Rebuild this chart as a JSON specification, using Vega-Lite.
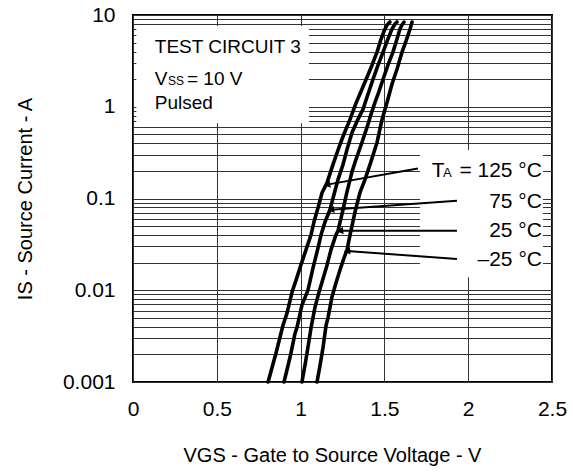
{
  "$schema": "https://vega.github.io/schema/vega-lite/v6.json",
  "width": 419,
  "height": 367,
  "autosize": {"type": "none"},
  "padding": {"left": 133, "top": 15, "right": 21, "bottom": 94},
  "background": "white",
  "data": {"values": [{}]},
  "config": {
    "font": "Liberation Sans",
    "view": {"stroke": "#000", "strokeWidth": 2},
    "axis": {
      "grid": true, "gridColor": "#333", "gridWidth": 1, "gridOpacity": 1,
      "ticks": false, "tickSize": 0, "domain": false,
      "labelFont": "Liberation Sans", "labelColor": "#000", "labelFontSize": 21,
      "titleFont": "Liberation Sans", "titleColor": "#000", "titleFontWeight": "normal", "titleFontSize": 20,
      "labelFlush": false, "labelOverlap": false
    },
    "text": {"font": "Liberation Sans", "color": "#000", "fontSize": 19, "align": "left", "baseline": "alphabetic"}
  },
  "datasets": {
    "curves": [
      {"t": "125", "v": 0.806, "i": 0.001},
      {"t": "125", "v": 0.853, "i": 0.00206},
      {"t": "125", "v": 0.895, "i": 0.00416},
      {"t": "125", "v": 0.919, "i": 0.00563},
      {"t": "125", "v": 0.949, "i": 0.00956},
      {"t": "125", "v": 0.973, "i": 0.0129},
      {"t": "125", "v": 1.002, "i": 0.0189},
      {"t": "125", "v": 1.032, "i": 0.0275},
      {"t": "125", "v": 1.062, "i": 0.0402},
      {"t": "125", "v": 1.080, "i": 0.0557},
      {"t": "125", "v": 1.104, "i": 0.0793},
      {"t": "125", "v": 1.128, "i": 0.1157},
      {"t": "125", "v": 1.158, "i": 0.1489},
      {"t": "125", "v": 1.193, "i": 0.2343},
      {"t": "125", "v": 1.235, "i": 0.3877},
      {"t": "125", "v": 1.265, "i": 0.5381},
      {"t": "125", "v": 1.295, "i": 0.7279},
      {"t": "125", "v": 1.330, "i": 1.089},
      {"t": "125", "v": 1.366, "i": 1.55},
      {"t": "125", "v": 1.396, "i": 2.097},
      {"t": "125", "v": 1.426, "i": 2.838},
      {"t": "125", "v": 1.456, "i": 3.937},
      {"t": "125", "v": 1.480, "i": 5.463},
      {"t": "125", "v": 1.498, "i": 6.682},
      {"t": "125", "v": 1.516, "i": 7.773},
      {"t": "125", "v": 1.533, "i": 8.384},
      {"t": "75", "v": 0.901, "i": 0.001},
      {"t": "75", "v": 0.937, "i": 0.00186},
      {"t": "75", "v": 0.967, "i": 0.0034},
      {"t": "75", "v": 0.979, "i": 0.00396},
      {"t": "75", "v": 1.008, "i": 0.00689},
      {"t": "75", "v": 1.044, "i": 0.01005},
      {"t": "75", "v": 1.074, "i": 0.0175},
      {"t": "75", "v": 1.104, "i": 0.02895},
      {"t": "75", "v": 1.122, "i": 0.0402},
      {"t": "75", "v": 1.146, "i": 0.0557},
      {"t": "75", "v": 1.175, "i": 0.0754},
      {"t": "75", "v": 1.199, "i": 0.1101},
      {"t": "75", "v": 1.223, "i": 0.1606},
      {"t": "75", "v": 1.253, "i": 0.2343},
      {"t": "75", "v": 1.277, "i": 0.342},
      {"t": "75", "v": 1.307, "i": 0.5247},
      {"t": "75", "v": 1.336, "i": 0.6923},
      {"t": "75", "v": 1.372, "i": 0.9367},
      {"t": "75", "v": 1.402, "i": 1.367},
      {"t": "75", "v": 1.432, "i": 1.994},
      {"t": "75", "v": 1.462, "i": 2.838},
      {"t": "75", "v": 1.492, "i": 3.937},
      {"t": "75", "v": 1.521, "i": 5.463},
      {"t": "75", "v": 1.545, "i": 7.028},
      {"t": "75", "v": 1.563, "i": 7.972},
      {"t": "75", "v": 1.575, "i": 8.384},
      {"t": "25", "v": 1.008, "i": 0.001},
      {"t": "25", "v": 1.026, "i": 0.00152},
      {"t": "25", "v": 1.044, "i": 0.00239},
      {"t": "25", "v": 1.062, "i": 0.00386},
      {"t": "25", "v": 1.086, "i": 0.00655},
      {"t": "25", "v": 1.110, "i": 0.00956},
      {"t": "25", "v": 1.128, "i": 0.0123},
      {"t": "25", "v": 1.158, "i": 0.0189},
      {"t": "25", "v": 1.181, "i": 0.0275},
      {"t": "25", "v": 1.211, "i": 0.0402},
      {"t": "25", "v": 1.223, "i": 0.0444},
      {"t": "25", "v": 1.253, "i": 0.0754},
      {"t": "25", "v": 1.277, "i": 0.1187},
      {"t": "25", "v": 1.307, "i": 0.1964},
      {"t": "25", "v": 1.330, "i": 0.2658},
      {"t": "25", "v": 1.366, "i": 0.4077},
      {"t": "25", "v": 1.396, "i": 0.5952},
      {"t": "25", "v": 1.420, "i": 0.8257},
      {"t": "25", "v": 1.444, "i": 1.117},
      {"t": "25", "v": 1.468, "i": 1.474},
      {"t": "25", "v": 1.492, "i": 1.994},
      {"t": "25", "v": 1.521, "i": 2.838},
      {"t": "25", "v": 1.551, "i": 3.937},
      {"t": "25", "v": 1.575, "i": 5.463},
      {"t": "25", "v": 1.593, "i": 7.028},
      {"t": "25", "v": 1.605, "i": 7.773},
      {"t": "25", "v": 1.617, "i": 8.384},
      {"t": "-25", "v": 1.098, "i": 0.001},
      {"t": "-25", "v": 1.116, "i": 0.00152},
      {"t": "-25", "v": 1.134, "i": 0.00239},
      {"t": "-25", "v": 1.152, "i": 0.00416},
      {"t": "-25", "v": 1.163, "i": 0.00497},
      {"t": "-25", "v": 1.187, "i": 0.00843},
      {"t": "-25", "v": 1.211, "i": 0.012},
      {"t": "-25", "v": 1.235, "i": 0.0166},
      {"t": "-25", "v": 1.259, "i": 0.0225},
      {"t": "-25", "v": 1.277, "i": 0.0275},
      {"t": "-25", "v": 1.295, "i": 0.0402},
      {"t": "-25", "v": 1.325, "i": 0.0717},
      {"t": "-25", "v": 1.354, "i": 0.1157},
      {"t": "-25", "v": 1.384, "i": 0.1606},
      {"t": "-25", "v": 1.414, "i": 0.2343},
      {"t": "-25", "v": 1.456, "i": 0.4077},
      {"t": "-25", "v": 1.486, "i": 0.7279},
      {"t": "-25", "v": 1.516, "i": 1.117},
      {"t": "-25", "v": 1.545, "i": 1.759},
      {"t": "-25", "v": 1.575, "i": 2.566},
      {"t": "-25", "v": 1.605, "i": 3.937},
      {"t": "-25", "v": 1.629, "i": 5.194},
      {"t": "-25", "v": 1.653, "i": 7.028},
      {"t": "-25", "v": 1.665, "i": 8.384}
    ],
    "arrows": [
      {"t": "125", "x_from": 1.700, "i_from": 0.212, "x_to": 1.158, "i_to": 0.1416},
      {"t": "75", "x_from": 1.933, "i_from": 0.0946, "x_to": 1.181, "i_to": 0.0754},
      {"t": "25", "x_from": 1.933, "i_from": 0.0444, "x_to": 1.235, "i_to": 0.0444},
      {"t": "-25", "x_from": 1.933, "i_from": 0.0219, "x_to": 1.277, "i_to": 0.0268}
    ]
  },
  "layer": [
    {
      "mark": {"type": "rect", "fill": "white", "strokeWidth": 0},
      "encoding": {
        "x": {"datum": 0.02, "type": "quantitative"},
        "x2": {"datum": 1.05},
        "y": {"datum": 0.66, "type": "quantitative"},
        "y2": {"datum": 7.6}
      }
    },
    {
      "mark": {"type": "rect", "fill": "white", "strokeWidth": 0},
      "encoding": {
        "x": {"datum": 1.712, "type": "quantitative"},
        "x2": {"datum": 2.446},
        "y": {"datum": 0.0139, "type": "quantitative"},
        "y2": {"datum": 0.338}
      }
    },
    {
      "data": {"name": "curves"},
      "mark": {"type": "line", "color": "#000", "strokeWidth": 3.6, "strokeJoin": "round", "strokeCap": "round"},
      "encoding": {
        "x": {
          "field": "v", "type": "quantitative",
          "scale": {"domain": [0, 2.5], "nice": false, "zero": false},
          "axis": {
            "values": [0, 0.5, 1, 1.5, 2, 2.5], "format": "~g",
            "labelPadding": 16, "title": "VGS - Gate to Source Voltage - V", "titlePadding": 26, "titleX": 199
          }
        },
        "y": {
          "field": "i", "type": "quantitative",
          "scale": {"type": "log", "domain": [0.001, 10], "nice": false},
          "axis": {
            "values": [0.001, 0.002, 0.003, 0.004, 0.005, 0.006, 0.007, 0.008, 0.009,
                       0.01, 0.02, 0.03, 0.04, 0.05, 0.06, 0.07, 0.08, 0.09,
                       0.1, 0.2, 0.3, 0.4, 0.5, 0.6, 0.7, 0.8, 0.9,
                       1, 2, 3, 4, 5, 6, 7, 8, 9, 10],
            "format": "~g",
            "labelExpr": "indexof(['0.001','0.01','0.1','1','10'], datum.label) >= 0 ? datum.label : ''",
            "labelPadding": 18, "title": "IS - Source Current - A", "titlePadding": 27
          }
        },
        "detail": {"field": "t", "type": "nominal"}
      }
    },
    {
      "data": {"name": "arrows"},
      "mark": {"type": "rule", "color": "#000", "strokeWidth": 2},
      "encoding": {
        "x": {"field": "x_from", "type": "quantitative"},
        "y": {"field": "i_from", "type": "quantitative"},
        "x2": {"field": "x_to"},
        "y2": {"field": "i_to"}
      }
    },
    {
      "data": {"name": "arrows"},
      "mark": {"type": "point", "shape": "triangle-left", "filled": true, "color": "#000", "opacity": 1, "size": 55},
      "encoding": {
        "x": {"field": "x_to", "type": "quantitative"},
        "y": {"field": "i_to", "type": "quantitative"},
        "angle": {"field": "t", "type": "nominal", "scale": {"domain": ["125", "75", "25", "-25"], "range": [-10, -4, 0, 4]}, "legend": null}
      }
    },
    {"mark": {"type": "text", "text": "TEST CIRCUIT 3"}, "encoding": {"x": {"datum": 0.13}, "y": {"datum": 3.88}}},
    {"mark": {"type": "text", "text": "V"}, "encoding": {"x": {"datum": 0.13}, "y": {"datum": 1.726}}},
    {"mark": {"type": "text", "text": "SS", "fontSize": 12}, "encoding": {"x": {"datum": 0.209}, "y": {"datum": 1.726}}},
    {"mark": {"type": "text", "text": "= 10 V"}, "encoding": {"x": {"datum": 0.322}, "y": {"datum": 1.726}}},
    {"mark": {"type": "text", "text": "Pulsed"}, "encoding": {"x": {"datum": 0.13}, "y": {"datum": 0.938}}},
    {"mark": {"type": "text", "text": "T", "fontSize": 21}, "encoding": {"x": {"datum": 1.782}, "y": {"datum": 0.173}}},
    {"mark": {"type": "text", "text": "A", "fontSize": 13}, "encoding": {"x": {"datum": 1.85}, "y": {"datum": 0.173}}},
    {"mark": {"type": "text", "text": "= 125 °C", "align": "right", "fontSize": 21}, "encoding": {"x": {"datum": 2.44}, "y": {"datum": 0.173}}},
    {"mark": {"type": "text", "text": "75 °C", "align": "right", "fontSize": 21}, "encoding": {"x": {"datum": 2.44}, "y": {"datum": 0.0782}}},
    {"mark": {"type": "text", "text": "25 °C", "align": "right", "fontSize": 21}, "encoding": {"x": {"datum": 2.44}, "y": {"datum": 0.0384}}},
    {"mark": {"type": "text", "text": "–25 °C", "align": "right", "fontSize": 21}, "encoding": {"x": {"datum": 2.44}, "y": {"datum": 0.01837}}}
  ]
}
